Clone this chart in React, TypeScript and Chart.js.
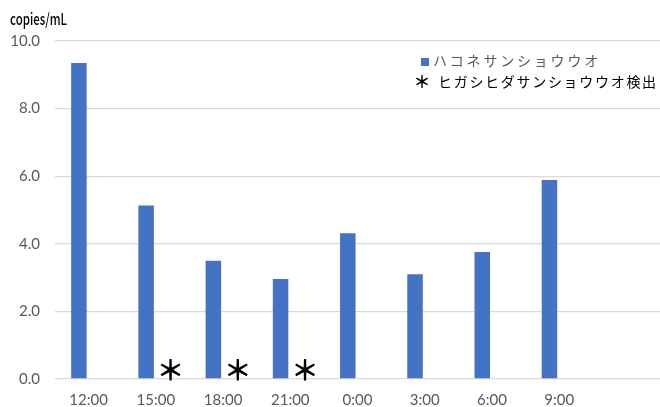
import { useEffect, useRef } from "react";
import { Chart, registerables } from "chart.js";

Chart.register(...registerables);

const categories = ["12:00", "15:00", "18:00", "21:00", "0:00", "3:00", "6:00", "9:00", ""];
const hakoneValues: (number | null)[] = [9.35, 5.13, 3.5, 2.96, 4.31, 3.1, 3.76, 5.89, null];
const higashiDetected = ["15:00", "18:00", "21:00"];
const yTickValues = [0, 2, 4, 6, 8, 10];
const seriesNames = ["ハコネサンショウウオ", "ヒガシヒダサンショウウオ検出"];
const yUnit = "copies/mL";

const BLUE = "#4472C4";
const GRAY = "#595959";
const GRID = "#d9d9d9";
const CJK = '"Noto Sans CJK JP", sans-serif';

function drawSpaced(ctx: CanvasRenderingContext2D, text: string, x: number, y: number, adv: number) {
  let cx = x;
  for (const ch of Array.from(text)) {
    ctx.fillText(ch, cx, y);
    cx += adv;
  }
}

const overlay = {
  id: "overlay",
  afterDatasetsDraw(chart: any) {
    const ctx: CanvasRenderingContext2D = chart.ctx;
    const xs = chart.scales.x;
    const ys = chart.scales.y;
    const step = xs.getPixelForValue(1) - xs.getPixelForValue(0);
    ctx.save();
    ctx.fillStyle = "#000";
    ctx.textAlign = "center";
    ctx.textBaseline = "middle";
    ctx.font = `bold 28px ${CJK}`;
    higashiDetected.forEach((lbl) => {
      const i = categories.indexOf(lbl);
      ctx.fillText("＊", xs.getPixelForValue(i) + step * 0.22, ys.getPixelForValue(0) - 9);
    });
    // y unit
    ctx.textAlign = "left";
    ctx.font = `500 16px ${CJK}`;
    ctx.fillText(yUnit, 10, 19, 57);
    // legend
    ctx.fillStyle = BLUE;
    ctx.fillRect(421, 58, 8, 8);
    ctx.fillStyle = GRAY;
    ctx.font = `14px ${CJK}`;
    ctx.textAlign = "left";
    drawSpaced(ctx, seriesNames[0], 433, 61, 16.8);
    ctx.fillStyle = "#000";
    ctx.textAlign = "center";
    ctx.font = `bold 17px ${CJK}`;
    ctx.fillText("＊", 422, 82);
    ctx.textAlign = "left";
    ctx.font = `14px ${CJK}`;
    drawSpaced(ctx, seriesNames[1], 438, 82, 15.7);
    ctx.restore();
  },
};

export default function App() {
  const ref = useRef<HTMLCanvasElement | null>(null);
  useEffect(() => {
    document.body.style.margin = "0";
    const canvas = ref.current;
    if (!canvas) return;
    const chart = new Chart(canvas, {
      type: "bar",
      data: {
        labels: categories,
        datasets: [
          {
            label: seriesNames[0],
            data: hakoneValues,
            backgroundColor: BLUE,
            categoryPercentage: 0.577,
            barPercentage: 0.8,
          },
          {
            label: seriesNames[1],
            data: categories.map(() => null),
            backgroundColor: "rgba(0,0,0,0)",
            categoryPercentage: 0.577,
            barPercentage: 0.8,
          },
        ],
      },
      options: {
        responsive: false,
        animation: false,
        layout: { padding: { top: 41, left: 0, right: 0, bottom: 0 } },
        plugins: {
          legend: { display: false },
          tooltip: { enabled: false },
          title: { display: false },
        },
        scales: {
          x: {
            grid: { display: false, drawTicks: false },
            border: { display: false },
            ticks: {
              color: GRAY,
              font: { family: "Lato", size: 15 },
              padding: 12,
              maxRotation: 0,
              autoSkip: false,
            },
            afterFit: (s: any) => {
              s.height = 28;
            },
          },
          y: {
            min: 0,
            max: 10,
            afterBuildTicks: (s: any) => {
              s.ticks = yTickValues.map((v) => ({ value: v }));
            },
            grid: { color: GRID, lineWidth: 1.3, drawTicks: false },
            border: { display: false },
            ticks: {
              color: GRAY,
              font: { family: "Lato", size: 15 },
              padding: 15,
              callback: (v: any) => Number(v).toFixed(1),
            },
            afterFit: (s: any) => {
              s.width = 55;
            },
          },
        },
      },
      plugins: [overlay],
    });
    return () => chart.destroy();
  }, []);
  return (
    <div style={{ width: 660, height: 407 }}>
      <canvas ref={ref} width={660} height={407} />
    </div>
  );
}
